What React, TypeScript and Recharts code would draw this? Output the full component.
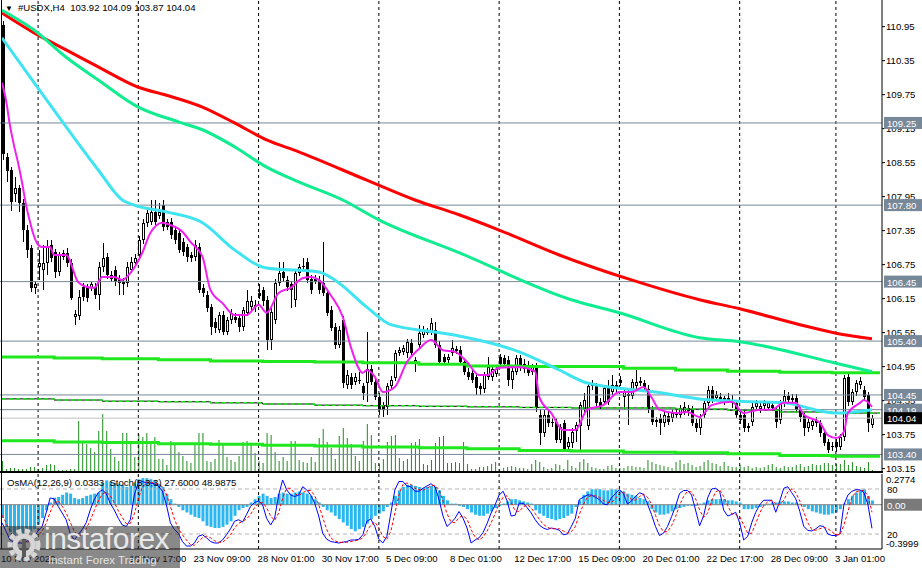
import React from 'react';
import { ComposedChart, Bar, Line, XAxis, YAxis, ReferenceLine } from 'recharts';

const FONT = "'Liberation Sans', Arial, sans-serif";

// H4 candles, bar index 0..217
const opens = [
  110.98,108.65,108.42,108.00,108.10,107.83,107.36,107.05,106.34,106.70,
  106.65,106.78,107.10,106.97,106.62,106.88,106.95,106.78,105.83,105.85,
  106.35,106.35,106.34,106.35,106.22,106.70,106.88,106.57,106.66,106.50,
  106.45,106.42,106.66,106.78,106.92,107.18,107.48,107.50,107.68,107.60,
  107.80,107.50,107.50,107.36,107.30,107.15,107.06,106.92,106.88,107.06,
  106.34,106.22,106.00,105.73,105.60,105.86,105.56,105.77,105.83,105.80,
  105.65,105.90,106.00,106.04,106.25,106.30,106.13,105.42,105.77,106.43,
  106.62,106.48,106.40,106.13,106.60,106.70,106.80,106.50,106.50,106.48,
  106.42,106.25,105.95,105.65,105.33,105.77,104.62,104.77,104.68,104.72,
  104.60,104.66,104.90,104.68,104.42,104.27,104.24,104.60,104.75,105.19,
  105.20,105.19,105.37,105.00,105.33,105.50,105.55,105.55,105.60,105.33,
  105.12,105.07,105.19,105.24,105.25,105.03,104.86,104.84,104.77,104.60,
  104.55,104.77,104.77,104.82,105.12,105.10,105.07,104.72,104.86,105.10,
  105.00,104.98,104.86,104.95,104.10,103.78,104.10,103.98,103.98,103.66,
  103.95,103.53,103.60,103.82,103.90,104.20,103.90,104.60,104.60,104.33,
  104.33,104.57,104.50,104.62,104.72,104.42,104.47,104.44,104.60,104.66,
  104.66,104.55,104.20,104.00,104.05,103.95,104.08,104.05,104.10,104.10,
  104.15,104.22,104.20,103.96,103.87,104.10,104.31,104.53,104.40,104.42,
  104.36,104.40,104.36,104.30,104.10,104.10,103.90,103.97,104.24,104.20,
  104.25,104.22,104.28,104.20,104.00,104.30,104.44,104.40,104.40,104.19,
  104.10,103.87,103.90,104.00,103.95,103.78,103.62,103.55,103.62,103.53,
  103.70,104.76,104.33,104.50,104.62,104.53,104.45,103.92,
];
const highs = [
  111.05,108.72,108.48,108.30,108.15,107.90,107.45,107.10,106.46,107.01,
  107.10,107.19,107.19,107.03,106.98,107.01,107.05,106.85,105.95,106.30,
  106.42,106.40,106.44,106.42,106.80,107.13,106.95,106.63,106.72,106.56,
  106.52,106.80,106.88,106.93,107.25,107.55,107.72,107.89,107.89,107.84,
  107.89,107.56,107.58,107.42,107.38,107.22,107.12,106.98,107.18,107.13,
  106.40,106.28,106.05,105.80,105.92,105.93,105.82,105.96,105.90,105.86,
  106.00,106.30,106.20,106.12,106.40,106.36,106.20,105.98,106.50,106.80,
  106.80,106.55,106.46,106.66,106.76,106.86,106.86,106.56,106.56,106.55,
  107.15,106.32,106.02,105.72,105.66,105.85,104.89,104.84,104.84,104.86,
  104.66,105.56,104.97,104.75,104.48,104.33,104.66,104.78,105.25,105.30,
  105.34,105.44,105.44,105.12,105.68,105.66,105.63,105.80,105.74,105.40,
  105.18,105.18,105.42,105.32,105.31,105.10,104.92,104.90,104.84,104.66,
  104.86,105.12,104.96,104.96,105.18,105.16,105.13,104.94,105.16,105.16,
  105.08,105.05,105.00,105.02,104.20,104.18,104.16,104.05,104.04,103.94,
  104.00,103.70,103.86,103.98,104.33,104.48,104.66,104.72,104.66,104.40,
  104.63,104.71,104.80,104.70,104.78,104.56,104.53,104.74,104.89,104.76,
  104.72,104.62,104.26,104.06,104.12,104.16,104.14,104.20,104.20,104.28,
  104.32,104.28,104.26,104.02,104.12,104.36,104.60,104.60,104.52,104.48,
  104.44,104.48,104.45,104.36,104.16,104.16,103.96,104.30,104.36,104.32,
  104.36,104.34,104.34,104.26,104.36,104.53,104.50,104.46,104.46,104.25,
  104.16,104.03,104.05,104.06,104.01,103.84,103.68,103.62,103.68,103.76,
  104.80,104.82,104.56,104.72,104.76,104.60,104.51,104.09,
];
const lows = [
  108.60,108.20,107.70,107.86,107.68,107.15,106.87,106.27,106.24,106.48,
  106.30,106.57,106.80,106.51,106.55,106.83,106.70,106.13,105.68,105.77,
  106.10,106.09,106.28,106.15,105.95,106.62,106.50,106.44,106.38,106.21,
  106.21,106.35,106.60,106.72,106.85,107.12,107.42,107.45,107.45,107.55,
  107.35,107.36,107.20,107.12,106.95,106.90,106.80,106.80,106.82,106.25,
  106.18,105.92,105.50,105.55,105.54,105.50,105.50,105.71,105.72,105.56,
  105.58,105.85,105.95,105.92,106.15,106.02,105.24,105.24,105.70,106.38,
  106.45,106.28,105.98,106.00,106.55,106.65,106.42,106.24,106.40,106.24,
  106.20,105.84,105.57,105.26,105.27,104.58,104.56,104.56,104.62,104.64,
  104.36,104.33,104.62,104.36,104.10,104.06,104.10,104.55,104.70,105.14,
  105.15,105.10,105.12,104.85,105.28,105.45,105.50,105.50,105.27,104.97,
  104.97,105.01,105.13,105.18,104.97,104.80,104.71,104.66,104.45,104.45,
  104.48,104.72,104.70,104.76,104.94,104.94,104.60,104.56,104.80,104.88,
  104.84,104.78,104.80,104.15,103.57,103.70,103.88,103.88,103.60,103.60,
  103.48,103.47,103.52,103.62,103.48,104.14,103.84,104.54,104.24,104.20,
  104.27,104.27,104.44,104.49,104.60,104.19,103.92,104.38,104.55,104.60,
  104.50,104.14,103.92,103.88,103.74,103.88,103.92,103.98,104.04,104.04,
  104.10,104.08,103.90,103.80,103.74,104.04,104.25,104.30,104.34,104.30,
  104.28,104.30,104.22,104.05,103.94,103.80,103.80,103.90,104.18,104.14,
  104.18,104.16,104.16,103.86,103.94,104.24,104.30,104.30,104.13,103.98,
  103.72,103.80,103.84,103.88,103.70,103.55,103.42,103.46,103.44,103.47,
  103.64,104.26,104.27,104.44,104.56,104.36,103.80,103.87,
];
const closes = [
  108.70,108.40,107.85,108.10,107.83,107.36,107.00,106.34,106.40,106.78,
  106.78,107.07,106.87,106.62,106.92,106.95,106.78,106.16,105.88,106.18,
  106.18,106.16,106.40,106.22,106.70,106.87,106.57,106.50,106.45,106.42,
  106.40,106.71,106.80,106.87,107.18,107.48,107.66,107.68,107.50,107.68,
  107.41,107.41,107.27,107.18,107.00,106.97,106.88,106.87,107.10,106.30,
  106.25,105.99,105.65,105.64,105.86,105.56,105.77,105.90,105.77,105.65,
  105.95,106.10,106.10,106.00,106.20,106.10,105.42,105.92,106.43,106.60,
  106.52,106.35,106.30,106.60,106.70,106.73,106.48,106.30,106.45,106.30,
  106.25,105.90,105.63,105.33,105.60,104.66,104.80,104.62,104.77,104.70,
  104.49,104.90,104.68,104.42,104.19,104.19,104.60,104.72,105.19,105.24,
  105.28,105.38,105.19,105.07,105.55,105.60,105.57,105.72,105.33,105.03,
  105.03,105.12,105.28,105.26,105.03,104.86,104.77,104.72,104.57,104.55,
  104.80,104.95,104.90,104.90,105.00,105.00,104.72,104.88,105.10,104.95,
  104.90,104.84,104.96,104.22,103.78,104.10,103.95,103.95,103.66,103.88,
  103.50,103.62,103.80,103.92,104.27,104.36,104.60,104.66,104.30,104.26,
  104.57,104.33,104.62,104.55,104.66,104.50,104.44,104.68,104.68,104.70,
  104.57,104.20,103.98,103.98,103.95,104.10,103.98,104.14,104.14,104.22,
  104.24,104.16,103.96,103.87,104.05,104.31,104.53,104.36,104.45,104.36,
  104.40,104.36,104.30,104.10,104.00,103.87,103.87,104.24,104.30,104.26,
  104.30,104.30,104.22,103.98,104.30,104.44,104.36,104.36,104.19,104.06,
  103.87,103.97,103.99,103.95,103.78,103.60,103.48,103.53,103.53,103.70,
  104.75,104.33,104.50,104.66,104.70,104.42,103.95,104.04,
];
// tick volume
const volumes = [
  220,60,80,80,60,60,60,100,100,60,
  80,140,160,140,40,40,40,60,60,1020,
  580,560,480,400,820,1160,820,460,300,220,
  780,780,560,300,760,700,780,560,700,260,
  260,140,620,580,400,320,220,180,540,780,
  780,220,200,260,640,560,300,240,200,320,
  600,620,540,380,220,180,780,740,400,220,
  300,220,620,620,240,200,180,300,200,680,
  860,600,480,260,720,880,680,560,320,220,
  620,960,740,180,160,260,600,720,740,280,
  220,260,580,600,660,160,140,240,580,700,
  720,180,180,200,180,600,160,60,60,100,
  100,120,160,200,60,80,100,120,100,80,
  80,60,160,240,200,100,60,80,160,140,
  60,240,120,80,200,260,180,100,80,60,
  60,120,140,80,80,80,120,120,100,100,
  80,240,200,160,140,120,100,80,200,240,
  160,180,140,100,120,200,240,180,160,120,
  200,120,100,100,140,100,120,80,100,80,
  100,140,160,100,80,120,100,100,140,160,
  100,120,160,140,140,180,180,140,160,160,
  240,140,200,120,100,80,200,40,
];

// moving averages (bar index -> value)
const redBars = [0,8,16,24,34,41,50,58,66,74,91,103,114,124,139,157,174,184,199,208,217];
const redMa = [111.19,110.84,110.54,110.24,109.88,109.74,109.53,109.25,108.95,108.74,108.24,107.89,107.63,107.36,106.92,106.48,106.13,105.97,105.69,105.54,105.44];
const greenBars = [0,8,16,24,34,44,50,58,66,74,85,94,114,142,154,174,184,208,217];
const greenMa = [111.24,110.89,110.41,110.01,109.53,109.27,109.13,108.83,108.47,108.21,107.89,107.54,106.96,106.13,105.90,105.46,105.39,105.01,104.86];
const cyanBars = [0,8,16,24,30,33,41,50,58,66,79,83,91,97,108,114,129,139,146,163,174,187,195,208,217];
const cyanMa = [110.75,109.96,109.18,108.42,107.89,107.80,107.68,107.49,107.01,106.69,106.62,106.48,106.00,105.69,105.56,105.49,105.21,104.89,104.66,104.50,104.38,104.33,104.31,104.13,104.19];
const pinkBars = [0,1,2,3,4,5,6,7,8,9,10,12,13,16,19,21,23,25,28,30,32,35,37,40,42,45,47,50,52,55,58,61,64,66,69,72,75,77,79,82,85,87,90,91,93,95,98,101,104,107,110,113,116,119,121,124,129,133,134,137,140,143,146,150,154,157,160,162,164,168,171,174,177,182,185,189,192,195,198,200,204,206,208,210,211,214,215,217];
const pinkMa = [109.96,109.65,109.20,108.85,108.55,108.20,107.80,107.50,107.25,107.10,107.06,107.06,106.92,106.92,106.44,106.36,106.34,106.53,106.53,106.48,106.60,106.96,107.31,107.49,107.45,107.33,107.15,106.89,106.30,106.07,105.86,105.86,106.04,105.90,106.25,106.34,106.51,106.53,106.48,106.21,105.83,105.30,104.84,104.89,104.77,104.50,104.59,105.03,105.26,105.42,105.24,105.21,105.03,104.80,104.80,104.93,104.94,104.86,104.41,104.13,103.83,103.83,104.19,104.27,104.50,104.50,104.59,104.41,104.19,104.13,104.15,104.06,104.27,104.33,104.13,104.19,104.19,104.31,104.31,104.10,103.96,103.74,103.69,103.80,104.13,104.31,104.36,104.24];
// slow stepped lines
const stepBars = [0,13,25,39,52,65,78,90,104,116,129,142,155,168,181,194,207,219];
const topLime = [105.12,105.10,105.09,105.07,105.05,105.04,105.03,105.02,104.99,104.96,104.95,104.95,104.92,104.89,104.87,104.85,104.84,104.84];
const lowLime = [103.64,103.62,103.61,103.59,103.58,103.56,103.55,103.53,103.52,103.50,103.47,103.46,103.44,103.43,103.41,103.38,103.37,103.37];
const midLine = [104.38,104.36,104.34,104.33,104.31,104.29,104.27,104.26,104.25,104.24,104.23,104.22,104.22,104.20,104.18,104.15,104.13,104.13];

// OsMA(12,26,9) and Stoch(5,3,3)
const osma = [
  -0.12,-0.2,-0.25,-0.28,-0.28,-0.27,-0.26,-0.24,-0.22,-0.18,-0.12,-0.05,
  0.02,0.063,0.07,0.09,0.11,0.1,0.06,0.05,0.06,0.08,0.09,0.1,0.11,
  0.2,0.22,0.21,0.2,0.19,0.18,0.16,0.17,0.2,0.23,0.24,0.24,0.23,0.22,0.19,0.16,0.1,0.05,0.01,-0.02,
  -0.05,-0.07,-0.09,-0.11,-0.12,-0.15,-0.19,-0.2,-0.21,-0.21,-0.2,-0.18,-0.15,-0.1,-0.05,-0.03,-0.02,
  0.02,0.05,0.08,0.1,0.08,0.06,0.07,0.1,0.11,0.1,0.1,0.11,0.12,0.11,0.1,0.08,0.05,0.02,
  -0.02,-0.05,-0.07,-0.1,-0.13,-0.16,-0.19,-0.22,-0.24,-0.22,-0.2,-0.17,-0.13,-0.1,-0.08,-0.06,-0.02,
  0.02,0.08,0.13,0.16,0.18,0.18,0.17,0.16,0.15,0.16,0.17,0.16,0.13,0.08,0.04,0.01,0.01,-0.01,
  -0.02,-0.04,-0.07,-0.09,-0.1,-0.1,-0.08,-0.06,-0.03,-0.01,0.01,0.03,0.05,0.05,0.04,0.03,0.02,0.01,
  -0.05,-0.08,-0.1,-0.12,-0.13,-0.14,-0.13,-0.12,-0.1,-0.08,-0.02,0.04,0.09,0.12,0.14,0.14,0.14,0.13,0.13,0.14,0.14,0.13,0.12,0.1,0.09,0.08,0.06,0.05,0.03,
  -0.04,-0.07,-0.09,-0.09,-0.08,-0.06,-0.04,-0.03,-0.02,-0.01,-0.01,-0.01,0.01,0.02,0.04,0.05,0.05,0.05,0.05,0.04,0.04,0.03,0.02,-0.04,-0.04,-0.04,-0.03,-0.02,-0.01,
  0.01,0.02,0.02,0.03,0.03,0.03,0.02,0.02,0.01,-0.02,-0.04,-0.06,-0.07,-0.08,-0.09,-0.09,-0.08,-0.07,-0.04,0.01,0.05,0.08,0.11,0.13,0.14,0.08,0.0383,
];
const stochMain = [
  35,24,12,9,8,8,10,12,17,24,30,48,68,67,57,48,39,21,12,19,
  26,35,52,66,75,79,74,61,52,41,32,30,39,72,88,90,88,88,87,84,
  77,59,35,26,21,10,4,4,8,17,19,15,10,8,8,12,19,27,37,39,
  36,46,57,62,64,59,41,32,41,72,92,79,72,70,72,83,79,72,61,44,
  21,13,10,9,8,9,10,12,12,13,19,37,40,30,13,8,17,48,79,90,
  90,84,83,77,77,81,84,87,83,66,44,30,35,41,50,41,28,8,12,15,
  22,34,48,59,72,77,64,44,45,61,61,55,48,39,32,28,26,28,27,25,
  19,20,30,41,66,69,72,72,69,66,60,59,68,74,79,74,60,64,70,75,
  73,60,46,30,18,21,30,43,57,74,78,78,72,52,31,44,68,80,81,77,
  52,44,46,49,35,12,17,35,49,59,65,65,65,49,64,81,83,75,67,50,
  30,25,24,27,31,30,20,18,18,20,59,72,77,79,79,75,59,27.6,
];
const stochSignal = [
  45,35,24,15,10,8,9,10,13,18,24,34,49,61,64,57,48,36,24,17,
  19,27,38,51,64,73,76,71,62,51,42,34,34,47,66,83,89,89,88,86,
  83,73,57,40,27,19,12,6,5,10,15,17,15,11,9,9,13,19,28,34,
  37,40,46,55,61,62,55,44,38,48,68,81,81,74,71,75,78,78,71,59,
  42,26,15,11,9,9,9,10,11,12,15,23,32,36,28,17,13,24,48,72,
  86,88,86,81,79,78,81,84,85,79,64,47,36,35,42,44,40,26,16,12,
  16,24,35,47,60,69,71,62,51,50,56,59,55,47,40,33,29,27,27,27,
  24,21,23,30,46,59,69,71,71,69,65,62,62,67,74,76,71,66,65,70,
  73,69,60,45,31,23,23,31,43,58,70,77,76,67,52,42,48,64,76,79,
  70,58,47,46,43,32,21,21,34,48,58,63,65,60,59,65,76,80,75,64,
  49,35,26,25,27,29,27,23,19,19,32,50,69,76,78,78,71,48.99,
];

const priceTicks = [110.95,110.35,109.75,109.15,108.55,107.95,107.35,106.75,106.15,105.55,104.95,104.35,103.75,103.15];
const levelPrices = [109.25, 107.8, 106.45, 105.4, 104.45, 104.19, 103.4];
const levelText = ['109.25','107.80','106.45','105.40','104.45','104.19','103.40'];
const bidPrice = 104.04;
const gridBars = [9, 34, 64, 94, 124, 154, 184, 208];
const dateBars = [0,32,48,64,80,96,112,128,144,160,176,192,208];
const dateLabels = ['10 Nov 2022','18 Nov 17:00','23 Nov 09:00','28 Nov 01:00','30 Nov 17:00','5 Dec 09:00','8 Dec 01:00','12 Dec 17:00','15 Dec 09:00','20 Dec 01:00','22 Dec 17:00','28 Dec 09:00','3 Jan 01:00'];

const rows: any[] = Array.from({ length: 220 }, (_, i) => {
  const r: any = { i };
  if (i < closes.length) {
    r.o = opens[i];
    r.h = highs[i];
    r.l = lows[i];
    r.c = closes[i];
    r.hl = [lows[i], highs[i]];
    r.vol = volumes[i];
    r.osma = osma[i];
    r.sm = stochMain[i];
    r.ss = stochSignal[i];
  }
  return r;
});
const put = (key: string, bars: number[], vals: number[]) =>
  bars.forEach((b, k) => { rows[b][key] = vals[k]; });
put('red', redBars, redMa);
put('green', greenBars, greenMa);
put('cyan', cyanBars, cyanMa);
put('pink', pinkBars, pinkMa);
put('limeTop', stepBars, topLime);
put('limeLow', stepBars, lowLime);
put('mid', stepBars, midLine);

function Candle(props: any) {
  const { x, y, width, height, payload } = props;
  if (!payload || payload.o == null || x == null) return <g />;
  const { o, h, l, c } = payload;
  const top = Math.min(y, y + height);
  const span = Math.abs(height);
  const py = (v: number) => (h === l ? top : top + ((h - v) / (h - l)) * span);
  const xc = Math.round(x + width / 2);
  const bodyTop = py(Math.max(o, c));
  const bodyBot = py(Math.min(o, c));
  const bull = c > o;
  return (
    <g shapeRendering="crispEdges">
      <line x1={xc + 0.5} x2={xc + 0.5} y1={top} y2={top + span} stroke="#000" strokeWidth={1} />
      {bull ? (
        <rect x={xc - 0.5} y={bodyTop + 0.5} width={2} height={Math.max(bodyBot - bodyTop - 1, 0.5)} fill="#fff" stroke="#000" strokeWidth={1} />
      ) : (
        <rect x={xc - 1} y={bodyTop} width={3} height={Math.max(bodyBot - bodyTop, 1)} fill="#000" />
      )}
    </g>
  );
}

function PriceBox(props: any) {
  const { viewBox, text, bg, color } = props;
  if (!viewBox) return null;
  const bx = viewBox.x + viewBox.width + 2;
  return (
    <g>
      <rect x={bx} y={viewBox.y - 6} width={38} height={12} fill={bg} />
      <text x={bx + 3} y={viewBox.y + 4} fontSize={9.6} fontFamily={FONT} fill={color}>{text}</text>
    </g>
  );
}

function SideLabel(props: any) {
  const { viewBox, text } = props;
  if (!viewBox) return null;
  return (
    <text x={viewBox.x + viewBox.width + 5} y={viewBox.y + 4} fontSize={9.6} fontFamily={FONT} fill="#000">{text}</text>
  );
}

function OsmaTick(props: any) {
  const { x, y, payload } = props;
  const v = payload.value;
  return (
    <text x={x} y={v > 0 ? y + 9 : y - 2} fontSize={9.6} fontFamily={FONT} fill="#000">{v.toFixed(4)}</text>
  );
}

function DateTick(props: any) {
  const { x, y, payload } = props;
  const k = dateBars.indexOf(payload.value);
  return (
    <text x={x - 1} y={y + 13} fontSize={9.6} fontFamily={FONT} fill="#000">{dateLabels[k]}</text>
  );
}

const lineCommon = { dot: false, activeDot: false, isAnimationActive: false, connectNulls: true } as const;
const priceDomain: [number, number] = [103.09, 111.42];

export default function App() {
  return (
    <div style={{ position: 'absolute', left: 0, top: 0, width: 922, height: 568, background: '#fff', overflow: 'hidden', fontFamily: FONT }}>
      <ComposedChart width={922} height={476} data={rows} margin={{ top: 0, right: 0, bottom: 4, left: 0 }}>
        <XAxis xAxisId="m" dataKey="i" type="category" hide />
        <XAxis xAxisId="v" dataKey="i" type="category" hide />
        <YAxis
          yAxisId="p"
          orientation="right"
          width={40}
          domain={priceDomain}
          allowDataOverflow
          ticks={priceTicks}
          interval={0}
          tickSize={3}
          tickMargin={1}
          tick={{ fontSize: 9.6, fill: '#000', fontFamily: FONT }}
          tickLine={{ stroke: '#000' }}
          axisLine={{ stroke: '#000' }}
        />
        <YAxis yAxisId="v" hide domain={[0, 9440]} allowDataOverflow />
        <Bar xAxisId="v" yAxisId="v" dataKey="vol" barSize={1} fill="#1e8c1e" isAnimationActive={false} />
        {gridBars.map((b) => (
          <ReferenceLine key={'g' + b} xAxisId="m" yAxisId="p" x={b} stroke="#000" strokeDasharray="3 3" />
        ))}
        {levelPrices.map((p, k) => (
          <ReferenceLine key={'l' + k} xAxisId="m" yAxisId="p" y={p} stroke="#778899" />
        ))}
        <ReferenceLine xAxisId="m" yAxisId="p" y={bidPrice} stroke="#c0c0c0" />
        <Line xAxisId="m" yAxisId="p" dataKey="limeTop" type="stepAfter" stroke="#1fe81f" strokeWidth={3} {...lineCommon} />
        <Line xAxisId="m" yAxisId="p" dataKey="limeLow" type="stepAfter" stroke="#1fe81f" strokeWidth={3} {...lineCommon} />
        <Line xAxisId="m" yAxisId="p" dataKey="mid" type="stepAfter" stroke="#000" strokeWidth={1} {...lineCommon} />
        <Line xAxisId="m" yAxisId="p" dataKey="mid" type="stepAfter" stroke="#1fe81f" strokeWidth={1.5} strokeDasharray="4 3" {...lineCommon} />
        <Bar xAxisId="m" yAxisId="p" dataKey="hl" barSize={3} shape={Candle} isAnimationActive={false} />
        <Line xAxisId="m" yAxisId="p" dataKey="red" type="monotone" stroke="#ff0000" strokeWidth={3} {...lineCommon} />
        <Line xAxisId="m" yAxisId="p" dataKey="green" type="monotone" stroke="#10ec90" strokeWidth={3} {...lineCommon} />
        <Line xAxisId="m" yAxisId="p" dataKey="cyan" type="monotone" stroke="#40e4f0" strokeWidth={3} {...lineCommon} />
        <Line xAxisId="m" yAxisId="p" dataKey="pink" type="monotone" stroke="#f020f0" strokeWidth={2} {...lineCommon} />
      </ComposedChart>

      {/* price tags drawn above the axis labels */}
      <div style={{ position: 'absolute', left: 0, top: 0, pointerEvents: 'none' }}>
        <ComposedChart width={922} height={476} data={rows} margin={{ top: 0, right: 0, bottom: 4, left: 0 }}>
          <XAxis xAxisId="m" dataKey="i" type="category" hide />
          <YAxis yAxisId="p" orientation="right" width={40} domain={priceDomain} allowDataOverflow tick={false} tickLine={false} axisLine={false} />
          {levelPrices.map((p, k) => (
            <ReferenceLine
              key={'t' + k}
              xAxisId="m"
              yAxisId="p"
              y={p}
              stroke="none"
              label={<PriceBox text={levelText[k]} bg="#778899" color="#fff" />}
            />
          ))}
          <ReferenceLine xAxisId="m" yAxisId="p" y={bidPrice} stroke="none" label={<PriceBox text="104.04" bg="#000" color="#fff" />} />
        </ComposedChart>
      </div>

      <div style={{ position: 'absolute', left: 0, top: 471, width: 883, height: 2, background: '#000' }} />

      <div style={{ position: 'absolute', left: 0, top: 474 }}>
        <ComposedChart width={922} height={94} data={rows} margin={{ top: 0, right: 0, bottom: 0, left: 0 }}>
          <XAxis
            xAxisId="m"
            dataKey="i"
            type="category"
            ticks={dateBars}
            interval={0}
            height={19}
            tickSize={0}
            tickMargin={0}
            tickLine={false}
            axisLine={{ stroke: '#000' }}
            tick={<DateTick />}
          />
          <YAxis
            yAxisId="o"
            orientation="right"
            width={40}
            domain={[-0.3999, 0.2774]}
            allowDataOverflow
            ticks={[0.2774, -0.3999]}
            interval={0}
            tickSize={3}
            tickMargin={1}
            tickLine={false}
            axisLine={{ stroke: '#000' }}
            tick={<OsmaTick />}
          />
          <YAxis yAxisId="s" hide domain={[0, 100]} allowDataOverflow />
          <ReferenceLine xAxisId="m" yAxisId="s" y={80} stroke="#b4b4b4" strokeDasharray="4 3" label={<SideLabel text="80" />} />
          <ReferenceLine xAxisId="m" yAxisId="s" y={20} stroke="#b4b4b4" strokeDasharray="4 3" label={<SideLabel text="20" />} />
          {gridBars.map((b) => (
            <ReferenceLine key={'h' + b} xAxisId="m" yAxisId="o" x={b} stroke="#000" strokeDasharray="3 3" />
          ))}
          <Bar xAxisId="m" yAxisId="o" dataKey="osma" barSize={3} fill="#2ab6ee" isAnimationActive={false} />
          <ReferenceLine xAxisId="m" yAxisId="o" y={0} stroke="#808080" label={<PriceBox text="0.00" bg="#7a7a7a" color="#fff" />} />
          <Line xAxisId="m" yAxisId="s" dataKey="sm" type="linear" stroke="#0000ff" strokeWidth={1} {...lineCommon} />
          <Line xAxisId="m" yAxisId="s" dataKey="ss" type="linear" stroke="#ff0000" strokeWidth={1} strokeDasharray="3 2" {...lineCommon} />
        </ComposedChart>
      </div>

      <div style={{ position: 'absolute', left: 1, top: 0, width: 1, height: 549, background: '#000' }} />

      <div style={{ position: 'absolute', left: 5, top: 2, fontSize: 9.6, color: '#000', whiteSpace: 'nowrap', lineHeight: '11px' }}>
        <span style={{ fontSize: 8, marginRight: 5 }}>▼</span>
        #USDX,H4&nbsp;&nbsp;103.92 104.09 103.87 104.04
      </div>
      <div style={{ position: 'absolute', left: 7, top: 477, fontSize: 9.6, color: '#000', whiteSpace: 'nowrap', lineHeight: '11px' }}>
        OsMA(12,26,9) 0.0383&nbsp;&nbsp;Stoch(5,3,3) 27.6000 48.9875
      </div>

      <div style={{ position: 'absolute', left: 0, top: 526, width: 180, height: 42, background: 'rgba(40,40,40,0.55)' }}>
        <svg width={46} height={42} style={{ position: 'absolute', left: 2, top: 0 }}>
          <circle cx={22} cy={19} r={14} fill="none" stroke="#d6d6d6" strokeWidth={5} strokeDasharray="5 3.3" />
          <circle cx={22} cy={19} r={9} fill="none" stroke="#d6d6d6" strokeWidth={5} />
          <rect x={20} y={13} width={4} height={18} fill="#5a5a5a" />
        </svg>
        <div style={{ position: 'absolute', left: 44, top: -3, fontSize: 30, color: 'rgba(240,240,240,0.95)', letterSpacing: -0.5, lineHeight: '31px' }}>
          instaforex
        </div>
        <div style={{ position: 'absolute', left: 48, top: 28, fontSize: 11.5, color: 'rgba(235,235,235,0.95)', lineHeight: '13px', whiteSpace: 'nowrap' }}>
          Instant Forex Trading
        </div>
      </div>
    </div>
  );
}
